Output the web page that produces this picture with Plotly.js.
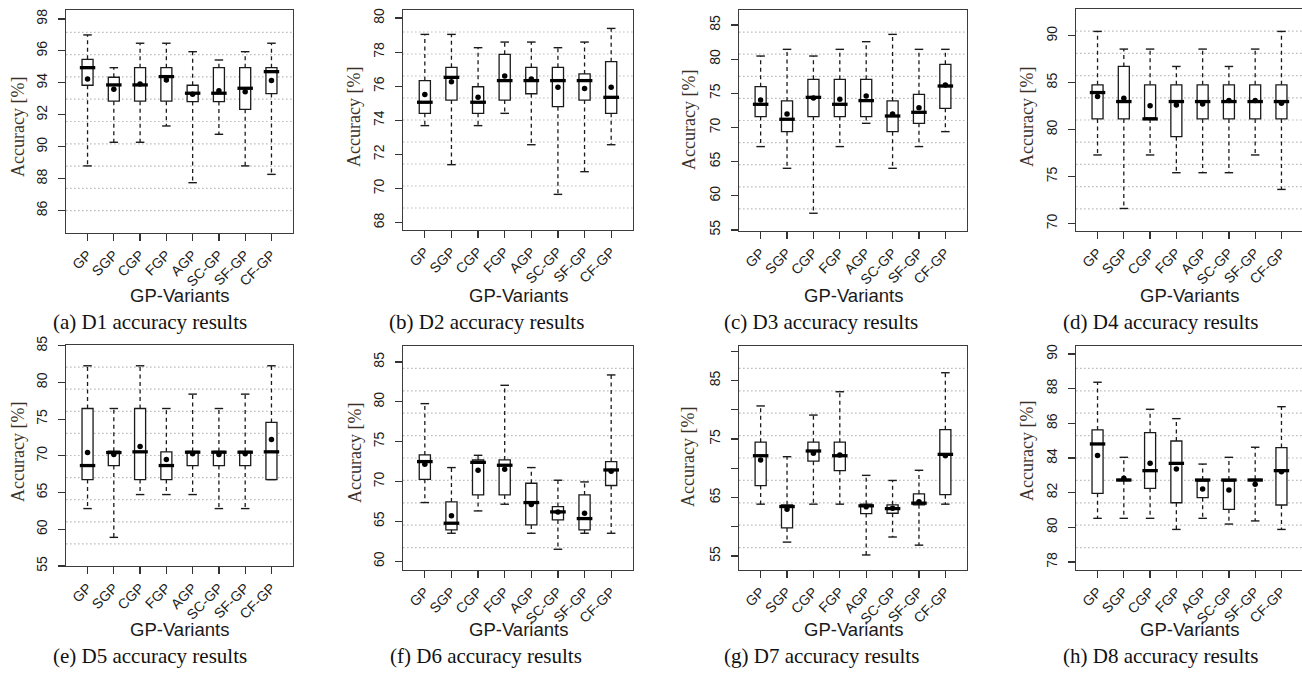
<!DOCTYPE html>
<html><head><meta charset="utf-8">
<script src="https://cdn.plot.ly/plotly-3.0.1.min.js"></script>
<style>html,body{margin:0;padding:0;overflow:hidden;background:#fff}#chart{width:1304px;height:673px}</style>
</head><body><div id="chart"></div>
<script>
const CATEGORIES = ['GP','SGP','CGP','FGP','AGP','SC-GP','SF-GP','CF-GP'];

// D1
const D1_UPPER = [97.0, 94.95, 96.48, 96.48, 95.95, 95.43, 95.95, 96.48];
const D1_Q3    = [95.47, 94.35, 94.95, 94.95, 93.85, 94.95, 94.95, 94.95];
const D1_MED   = [94.95, 93.87, 93.87, 94.39, 93.35, 93.35, 93.66, 94.7];
const D1_Q1    = [93.85, 92.85, 92.85, 92.85, 92.83, 92.83, 92.34, 93.33];
const D1_LOWER = [88.8, 90.28, 90.28, 91.3, 87.75, 90.78, 88.8, 88.27];
const D1_MEAN  = [94.24, 93.6, 93.93, 94.18, 93.28, 93.5, 93.45, 94.14];
// D2
const D2_UPPER = [79.04, 79.04, 78.26, 78.59, 78.59, 78.26, 78.59, 79.39];
const D2_Q3    = [76.33, 77.11, 75.97, 77.87, 77.11, 77.11, 76.72, 77.44];
const D2_MED   = [75.06, 76.52, 75.06, 76.33, 76.33, 76.33, 76.33, 75.35];
const D2_Q1    = [74.41, 75.19, 74.41, 75.19, 75.56, 74.8, 75.19, 74.41];
const D2_LOWER = [73.69, 71.4, 73.69, 74.41, 72.57, 69.66, 70.99, 72.57];
const D2_MEAN  = [75.52, 76.27, 75.35, 76.6, 76.42, 75.94, 75.86, 75.94];
// D3
const D3_UPPER = [80.46, 81.44, 80.46, 81.44, 82.56, 83.63, 81.44, 81.44];
const D3_Q3    = [75.98, 73.88, 77.05, 77.05, 77.05, 73.88, 74.85, 79.24];
const D3_MED   = [73.39, 71.2, 74.41, 73.39, 73.93, 71.68, 72.22, 76.07];
const D3_Q1    = [71.59, 69.39, 71.59, 71.59, 71.59, 69.39, 70.61, 72.8];
const D3_LOWER = [67.2, 64.02, 57.44, 67.2, 70.61, 64.02, 67.2, 69.39];
const D3_MEAN  = [74.02, 71.98, 74.3, 74.12, 74.61, 71.98, 72.9, 76.22];
// D4
const D4_UPPER = [90.46, 88.58, 88.58, 86.73, 88.58, 86.73, 88.58, 90.46];
const D4_Q3    = [84.77, 86.73, 84.77, 84.77, 84.77, 84.77, 84.77, 84.77];
const D4_MED   = [83.95, 82.99, 81.14, 82.99, 82.99, 82.99, 82.99, 82.99];
const D4_Q1    = [81.14, 81.14, 81.14, 79.25, 81.14, 81.14, 81.14, 81.14];
const D4_LOWER = [77.3, 71.6, 77.3, 75.41, 75.41, 75.41, 77.3, 73.63];
const D4_MEAN  = [83.52, 83.35, 82.53, 82.63, 82.74, 83.1, 83.1, 82.81];
// D5
const D5_UPPER = [82.27, 76.45, 82.27, 76.45, 78.41, 76.45, 78.41, 82.27];
const D5_Q3    = [76.45, 70.64, 76.45, 70.55, 70.6, 70.6, 70.6, 74.55];
const D5_MED   = [68.68, 70.45, 70.55, 68.68, 70.5, 70.5, 70.5, 70.55];
const D5_Q1    = [66.77, 68.68, 66.77, 66.77, 68.68, 68.68, 68.68, 66.77];
const D5_LOWER = [62.82, 58.9, 64.73, 64.73, 64.73, 62.82, 62.82, 66.77];
const D5_MEAN  = [70.45, 70.2, 71.27, 69.5, 70.3, 70.2, 70.3, 72.23];
// D6
const D6_UPPER = [79.77, 71.75, 73.29, 82.07, 71.75, 70.16, 69.95, 83.37];
const D6_Q3    = [73.34, 67.44, 72.7, 72.71, 69.78, 66.86, 68.32, 72.5];
const D6_MED   = [72.5, 64.77, 72.4, 72.04, 67.36, 66.19, 65.35, 71.45];
const D6_Q1    = [70.28, 63.93, 68.32, 68.32, 64.56, 65.18, 63.93, 69.5];
const D6_LOWER = [67.36, 63.51, 66.31, 67.15, 63.51, 61.5, 63.51, 63.51];
const D6_MEAN  = [72.17, 65.69, 71.41, 71.54, 67.11, 66.19, 66.02, 71.3];
// D7
const D7_UPPER = [80.65, 71.97, 79.09, 83.08, 68.78, 67.91, 69.65, 86.33];
const D7_Q3    = [74.46, 63.74, 74.46, 74.46, 63.86, 63.74, 65.6, 76.6];
const D7_MED   = [72.14, 63.45, 72.95, 72.14, 63.57, 63.1, 64.03, 72.37];
const D7_Q1    = [67.04, 59.8, 71.21, 69.59, 62.24, 62.3, 63.74, 65.48];
const D7_LOWER = [63.86, 57.37, 63.86, 63.86, 55.17, 58.24, 56.85, 63.86];
const D7_MEAN  = [71.39, 62.99, 72.55, 72.26, 63.4, 63.16, 64.26, 72.14];
// D8
const D8_UPPER = [88.37, 84.04, 86.81, 86.27, 83.65, 84.04, 84.62, 86.96];
const D8_Q3    = [85.62, 82.77, 85.46, 84.98, 82.73, 82.73, 82.77, 84.6];
const D8_MED   = [84.81, 82.73, 83.27, 83.69, 82.73, 82.73, 82.73, 83.27];
const D8_Q1    = [81.96, 82.69, 82.25, 81.42, 81.71, 81.04, 82.69, 81.29];
const D8_LOWER = [80.52, 80.52, 80.52, 79.88, 80.52, 80.19, 80.37, 79.88];
const D8_MEAN  = [84.15, 82.83, 83.69, 83.37, 82.21, 82.15, 82.48, 83.21];

// y tick labels
const TICKS_D1 = [86, 88, 90, 92, 94, 96, 98];
const TICKS_D2 = [68, 70, 72, 74, 76, 78, 80];
const TICKS_D3 = [55, 60, 65, 70, 75, 80, 85];
const TICKS_D4 = [70, 75, 80, 85, 90];
const TICKS_D5 = [55, 60, 65, 70, 75, 80, 85];
const TICKS_D6 = [60, 65, 70, 75, 80, 85];
const TICKS_D7 = [55, 60, 65, 70, 75, 80, 85, 90];
const TICKTEXT_D7 = ['55', '', '65', '', '75', '', '85', ''];
const TICKS_D8 = [78, 80, 82, 84, 86, 88, 90];

const CAPTIONS = ['(a) D1 accuracy results','(b) D2 accuracy results','(c) D3 accuracy results','(d) D4 accuracy results',
                  '(e) D5 accuracy results','(f) D6 accuracy results','(g) D7 accuracy results','(h) D8 accuracy results'];
const Y_TITLE = 'Accuracy [%]';
const X_TITLE = 'GP-Variants';

const W = 1304, H = 673;
const SANS = 'Liberation Sans, Arial, sans-serif';
const SERIF = 'Liberation Serif, Times New Roman, serif';
const INK = '#1a1a1a';

// layout geometry (pixels): plot area [left,right,top,bottom], y range, y-title pos, caption x
const panels = [
  {d:[D1_UPPER,D1_Q3,D1_MED,D1_Q1,D1_LOWER,D1_MEAN], ticks:TICKS_D1, box:[66,293,10,233], range:[84.6,98.56], yt:[18,127], cx:150, cy:322, gx:295},
  {d:[D2_UPPER,D2_Q3,D2_MED,D2_Q1,D2_LOWER,D2_MEAN], ticks:TICKS_D2, box:[403,633,10,230], range:[67.57,80.47], yt:[354,117], cx:486, cy:322, gx:295},
  {d:[D3_UPPER,D3_Q3,D3_MED,D3_Q1,D3_LOWER,D3_MEAN], ticks:TICKS_D3, box:[739,967,10,231], range:[54.84,87.2], yt:[689,120], cx:821, cy:322, gx:295},
  {d:[D4_UPPER,D4_Q3,D4_MED,D4_Q1,D4_LOWER,D4_MEAN], ticks:TICKS_D4, box:[1076,1303,9,231], range:[69.2,92.85], yt:[1027,117], cx:1160, cy:322, gx:295},
  {d:[D5_UPPER,D5_Q3,D5_MED,D5_Q1,D5_LOWER,D5_MEAN], ticks:TICKS_D5, box:[66,293,345,566], range:[55.0,85.1], yt:[18,452], cx:150, cy:656, gx:629},
  {d:[D6_UPPER,D6_Q3,D6_MED,D6_Q1,D6_LOWER,D6_MEAN], ticks:TICKS_D6, box:[403,633,346,570], range:[58.9,87.0], yt:[355,453], cx:486, cy:656, gx:629},
  {d:[D7_UPPER,D7_Q3,D7_MED,D7_Q1,D7_LOWER,D7_MEAN], ticks:TICKS_D7, ticktext:TICKTEXT_D7, box:[739,967,346,570], range:[52.6,90.9], yt:[688,457], cx:821, cy:656, gx:629},
  {d:[D8_UPPER,D8_Q3,D8_MED,D8_Q1,D8_LOWER,D8_MEAN], ticks:TICKS_D8, box:[1076,1303,346,570], range:[77.54,90.46], yt:[1027,451], cx:1160, cy:656, gx:629}
];

const XR = [-0.82, 7.82];
const BOXW = 0.42;
const traces = [];
const layout = {
  width: W, height: H, margin: {l:0, r:0, t:0, b:0},
  paper_bgcolor: '#fff', plot_bgcolor: '#fff', showlegend: false,
  shapes: [], annotations: []
};

panels.forEach((p, i) => {
  const n = i === 0 ? '' : String(i + 1);
  const xa = 'x' + n, ya = 'y' + n;
  const [up, q3, med, q1, lo, mean] = p.d;
  const [L, R, T, B] = p.box;
  const pxPerUnit = (R - L) / (XR[1] - XR[0]);
  const boxPx = BOXW * pxPerUnit;

  layout['xaxis' + n] = {
    domain: [L / W, R / W], anchor: ya, type: 'category',
    categoryorder: 'array', categoryarray: CATEGORIES, range: XR,
    tickangle: -45, ticks: 'outside', ticklen: 7, tickcolor: '#333', tickwidth: 1.2,
    tickfont: {family: SANS, size: 14, color: INK}, ticklabelstandoff: 0,
    showline: true, mirror: true, linecolor: '#3c3c3c', linewidth: 1.3,
    showgrid: false, zeroline: false, fixedrange: true
  };
  layout['yaxis' + n] = {
    domain: [1 - B / H, 1 - T / H], anchor: xa, range: p.range,
    tickmode: 'array', tickvals: p.ticks, ticktext: p.ticktext || p.ticks.map(String),
    tickangle: -90, ticks: 'outside', ticklen: 7, tickcolor: '#333', tickwidth: 1.2,
    tickfont: {family: SANS, size: 14, color: INK}, ticklabelstandoff: 5,
    showline: true, mirror: true, linecolor: '#3c3c3c', linewidth: 1.3,
    showgrid: false, zeroline: false, fixedrange: true
  };

  // R-style grid: plot height split into 10 equal parts
  for (let k = 1; k <= 9; k++) {
    layout.shapes.push({type: 'line', xref: xa + ' domain', yref: ya + ' domain',
      x0: 0, x1: 1, y0: k / 10, y1: k / 10, layer: 'below',
      line: {color: '#bdbdbd', width: 1.2, dash: '1.6px,2.4px'}});
  }

  // dashed whiskers
  const wx = [], wy = [];
  CATEGORIES.forEach((c, j) => {
    wx.push(c, c, null, c, c, null);
    wy.push(q3[j], up[j], null, q1[j], lo[j], null);
  });
  traces.push({type: 'scatter', mode: 'lines', x: wx, y: wy, xaxis: xa, yaxis: ya,
    line: {color: INK, width: 1.3, dash: '4px,3.5px'}, hoverinfo: 'skip', connectgaps: false});

  // boxes
  traces.push({type: 'box', x: CATEGORIES, q1: q1, median: med, q3: q3,
    lowerfence: q1, upperfence: q3, width: BOXW, whiskerwidth: 0,
    fillcolor: '#ffffff', line: {color: INK, width: 1.3}, boxpoints: false,
    xaxis: xa, yaxis: ya, hoverinfo: 'skip'});

  // whisker caps
  traces.push({type: 'scatter', mode: 'markers', x: CATEGORIES.concat(CATEGORIES), y: up.concat(lo),
    xaxis: xa, yaxis: ya, hoverinfo: 'skip',
    marker: {symbol: 'line-ew-open', size: boxPx * 0.55, color: INK, line: {width: 1.4, color: INK}}});

  // thick medians
  traces.push({type: 'scatter', mode: 'markers', x: CATEGORIES, y: med, xaxis: xa, yaxis: ya, hoverinfo: 'skip',
    marker: {symbol: 'line-ew-open', size: boxPx, color: '#000', line: {width: 3.3, color: '#000'}}});

  // means
  traces.push({type: 'scatter', mode: 'markers', x: CATEGORIES, y: mean, xaxis: xa, yaxis: ya, hoverinfo: 'skip',
    marker: {symbol: 'circle', size: 5.5, color: '#000'}});

  // texts
  layout.annotations.push({text: Y_TITLE, textangle: -90, xref: 'paper', yref: 'paper',
    x: p.yt[0] / W, y: 1 - p.yt[1] / H, xanchor: 'center', yanchor: 'middle', showarrow: false,
    font: {family: SERIF, size: 18, color: '#3a3129'}});
  layout.annotations.push({text: X_TITLE, xref: 'paper', yref: 'paper',
    x: ((L + R) / 2) / W, y: 1 - p.gx / H, xanchor: 'center', yanchor: 'middle', showarrow: false,
    font: {family: SANS, size: 18.5, color: INK}});
  layout.annotations.push({text: CAPTIONS[i], xref: 'paper', yref: 'paper',
    x: p.cx / W, y: 1 - p.cy / H, xanchor: 'center', yanchor: 'middle', showarrow: false,
    font: {family: SERIF, size: 21, color: '#111'}});
});

Plotly.newPlot('chart', traces, layout, {staticPlot: true, displayModeBar: false});
</script>
</body></html>
